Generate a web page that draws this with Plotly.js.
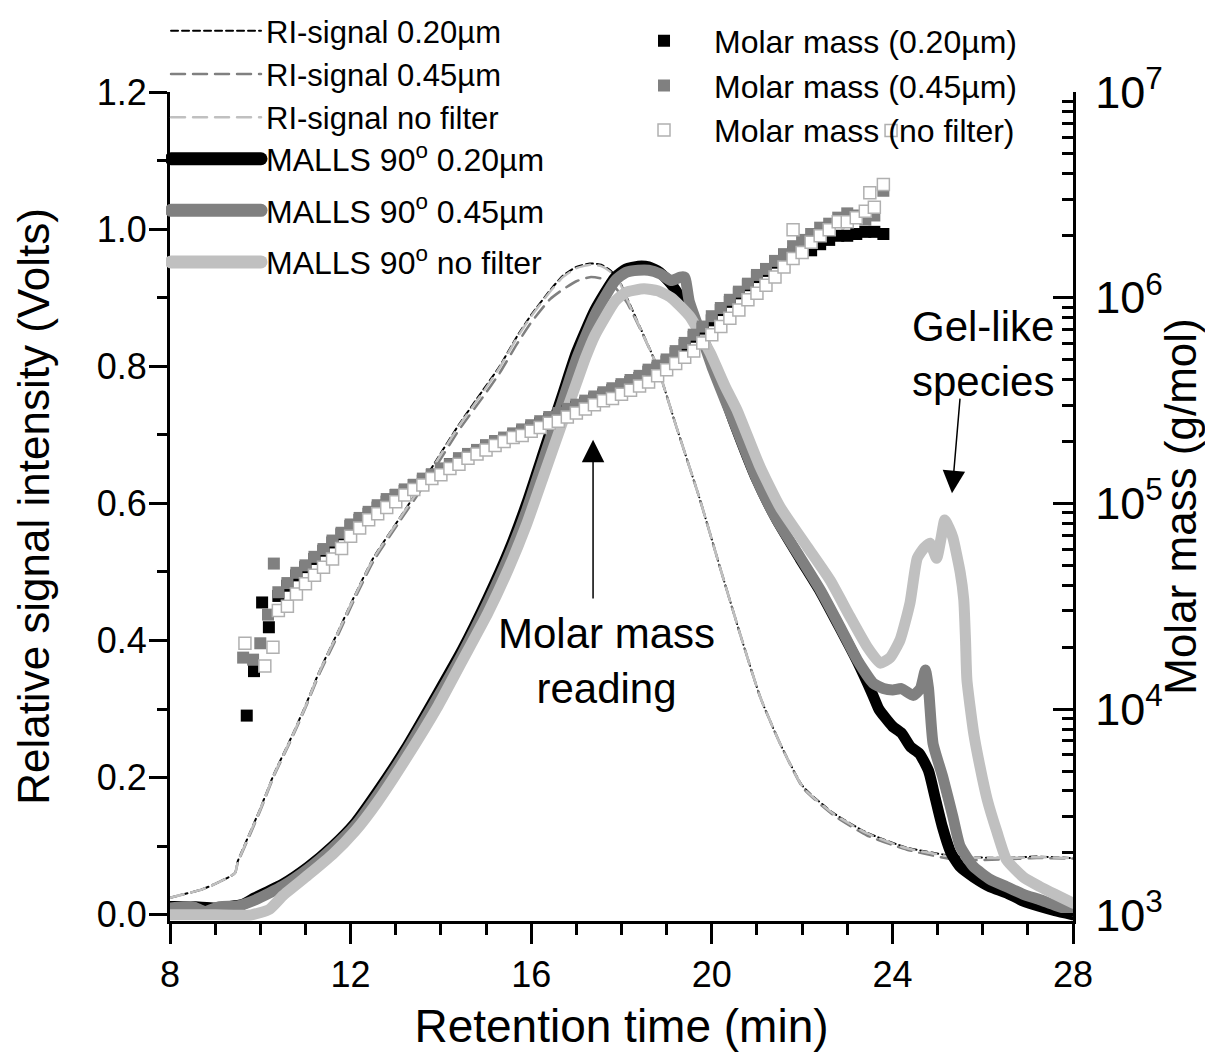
<!DOCTYPE html>
<html>
<head>
<meta charset="utf-8">
<script src="https://cdn.plot.ly/plotly-3.0.1.min.js"></script>
<style>
  body { margin: 0; background: #fff; }
  #chart { width: 1205px; height: 1052px; }
  .scatterlayer .js-line, .legend .js-line { stroke-linecap: round; stroke-linejoin: round; }
  .legend3 .js-line { stroke-width: 13px !important; stroke-linecap: round; }
</style>
</head>
<body>
<div id="chart"></div>
<script>
// ---------------- RI signals (relative signal intensity, Volts) ----------------
const riTime = [8.0, 8.3, 8.66, 9.0, 9.44, 9.5, 9.7, 10.0, 10.3, 10.66, 11.0, 11.32, 11.7, 12.05, 12.5, 13.1, 13.5, 13.9, 14.4, 14.93, 15.3, 15.68, 16.0, 16.42, 16.7, 17.0, 17.3, 17.55, 17.75, 17.95, 18.12, 18.41, 18.79, 19.2, 19.74, 20.18, 20.62, 21.07, 21.51, 22.02, 22.68, 23.43, 24.32, 25.43, 26.53, 27.2, 27.93, 28.0];
const riSignal020 = [0.025, 0.030, 0.036, 0.045, 0.061, 0.078, 0.109, 0.155, 0.205, 0.255, 0.305, 0.357, 0.41, 0.46, 0.52, 0.58, 0.62, 0.663, 0.715, 0.765, 0.80, 0.843, 0.875, 0.911, 0.932, 0.945, 0.95, 0.948, 0.94, 0.925, 0.90, 0.857, 0.80, 0.715, 0.605, 0.507, 0.411, 0.318, 0.25, 0.187, 0.149, 0.12, 0.098, 0.085, 0.083, 0.085, 0.083, 0.083];
const riSignal045 = [0.025, 0.030, 0.036, 0.045, 0.061, 0.076, 0.106, 0.152, 0.202, 0.252, 0.302, 0.353, 0.405, 0.455, 0.515, 0.575, 0.614, 0.655, 0.707, 0.755, 0.79, 0.832, 0.864, 0.898, 0.912, 0.924, 0.93, 0.928, 0.922, 0.908, 0.893, 0.855, 0.80, 0.715, 0.605, 0.507, 0.411, 0.318, 0.25, 0.185, 0.146, 0.116, 0.095, 0.080, 0.081, 0.083, 0.082, 0.082];
const riSignalNoFilter = [0.025, 0.030, 0.036, 0.045, 0.061, 0.077, 0.108, 0.154, 0.204, 0.254, 0.304, 0.356, 0.409, 0.459, 0.519, 0.579, 0.619, 0.661, 0.713, 0.762, 0.798, 0.841, 0.873, 0.909, 0.930, 0.943, 0.948, 0.946, 0.938, 0.923, 0.898, 0.856, 0.80, 0.715, 0.605, 0.507, 0.411, 0.318, 0.25, 0.186, 0.148, 0.119, 0.097, 0.084, 0.083, 0.084, 0.083, 0.083];

// ---------------- MALLS 90° signals ----------------
const mallsTime020 = [8.0, 8.5, 9.0, 9.3, 9.6, 9.88, 10.5, 11.06, 11.6, 12.1, 12.6, 13.2, 13.94, 14.47, 15.04, 15.5, 15.9, 16.3, 16.7, 17.0, 17.41, 17.86, 18.1, 18.37, 18.6, 18.85, 19.1, 19.4, 19.74, 19.96, 20.47, 21.0, 21.44, 21.95, 22.4, 22.84, 23.22, 23.57, 23.7, 24.0, 24.2, 24.4, 24.6, 24.8, 24.95, 25.1, 25.3, 25.5, 25.8, 26.16, 26.53, 26.9, 27.27, 27.6, 28.0];
const malls020 = [0.012, 0.012, 0.010, 0.012, 0.015, 0.025, 0.045, 0.070, 0.100, 0.134, 0.180, 0.240, 0.324, 0.386, 0.462, 0.530, 0.600, 0.680, 0.760, 0.820, 0.882, 0.930, 0.942, 0.946, 0.945, 0.937, 0.920, 0.890, 0.850, 0.815, 0.722, 0.634, 0.576, 0.520, 0.472, 0.418, 0.370, 0.320, 0.300, 0.275, 0.265, 0.245, 0.235, 0.210, 0.170, 0.130, 0.090, 0.070, 0.055, 0.041, 0.032, 0.020, 0.012, 0.006, 0.000];

const mallsTime045 = [8.0, 8.5, 8.78, 9.1, 9.5, 9.9, 10.5, 11.06, 11.6, 12.1, 12.6, 13.2, 13.94, 14.47, 15.04, 15.5, 15.9, 16.3, 16.7, 17.0, 17.41, 17.86, 18.1, 18.37, 18.6, 18.85, 19.1, 19.3, 19.4, 19.5, 19.74, 20.0, 20.47, 21.0, 21.44, 21.95, 22.4, 22.84, 23.22, 23.57, 23.8, 24.01, 24.2, 24.46, 24.62, 24.73, 24.8, 24.9, 25.12, 25.34, 25.5, 25.8, 26.16, 26.53, 26.9, 27.27, 27.6, 28.0];
const malls045 = [0.010, 0.012, 0.005, 0.012, 0.013, 0.022, 0.042, 0.067, 0.097, 0.130, 0.175, 0.235, 0.318, 0.380, 0.455, 0.522, 0.590, 0.670, 0.750, 0.810, 0.875, 0.925, 0.937, 0.940, 0.940, 0.935, 0.925, 0.930, 0.930, 0.895, 0.850, 0.800, 0.722, 0.634, 0.576, 0.522, 0.474, 0.420, 0.372, 0.338, 0.330, 0.328, 0.330, 0.320, 0.330, 0.357, 0.330, 0.250, 0.200, 0.143, 0.100, 0.070, 0.052, 0.041, 0.030, 0.022, 0.014, 0.006];

const mallsTimeNoFilter = [8.0, 9.0, 9.8, 10.2, 10.5, 11.06, 11.6, 12.1, 12.6, 13.2, 13.94, 14.47, 15.04, 15.5, 15.9, 16.3, 16.7, 17.0, 17.2, 17.41, 17.86, 18.1, 18.5, 18.8, 19.1, 19.52, 19.96, 20.3, 20.56, 21.07, 21.51, 22.11, 22.62, 23.06, 23.44, 23.73, 23.95, 24.17, 24.39, 24.55, 24.7, 24.83, 24.98, 25.08, 25.16, 25.25, 25.34, 25.5, 25.58, 25.62, 25.65, 25.8, 25.94, 26.1, 26.32, 26.53, 26.9, 27.27, 27.6, 28.0];
const mallsNoFilter = [0.0, 0.0, 0.0, 0.008, 0.028, 0.058, 0.088, 0.122, 0.165, 0.225, 0.305, 0.370, 0.440, 0.505, 0.570, 0.645, 0.720, 0.775, 0.812, 0.845, 0.895, 0.908, 0.913, 0.910, 0.900, 0.872, 0.820, 0.770, 0.736, 0.653, 0.595, 0.537, 0.488, 0.435, 0.391, 0.367, 0.375, 0.401, 0.455, 0.520, 0.535, 0.542, 0.520, 0.550, 0.576, 0.565, 0.550, 0.500, 0.460, 0.400, 0.343, 0.265, 0.216, 0.168, 0.120, 0.080, 0.055, 0.041, 0.030, 0.017];

// ---------------- Molar mass (g/mol) ----------------
const mmTime = [10.4, 10.6, 10.8, 11.0, 11.2, 11.4, 11.6, 11.8, 12.0, 12.2, 12.4, 12.6, 12.8, 13.0, 13.2, 13.4, 13.6, 13.8, 14.0, 14.2, 14.4, 14.6, 14.8, 15.0, 15.2, 15.4, 15.6, 15.8, 16.0, 16.2, 16.4, 16.6, 16.8, 17.0, 17.2, 17.4, 17.6, 17.8, 18.0, 18.2, 18.4, 18.6, 18.8, 19.0, 19.2, 19.4, 19.6, 19.8, 20.0, 20.2, 20.4, 20.6, 20.8, 21.0, 21.2, 21.4, 21.6, 21.8, 22.0, 22.2, 22.4, 22.6, 22.8, 23.0, 23.2, 23.4, 23.6, 23.8];
const molarMass020 = [3.55e4, 3.98e4, 4.47e4, 4.9e4, 5.37e4, 5.89e4, 6.46e4, 7.08e4, 7.76e4, 8.32e4,
  8.91e4, 9.55e4, 1.02e5, 1.10e5, 1.15e5, 1.23e5, 1.29e5, 1.38e5, 1.45e5, 1.55e5,
  1.62e5, 1.70e5, 1.78e5, 1.91e5, 2.00e5, 2.04e5, 2.14e5, 2.24e5, 2.34e5, 2.45e5,
  2.57e5, 2.69e5, 2.82e5, 2.95e5, 3.09e5, 3.24e5, 3.39e5, 3.55e5, 3.72e5, 3.89e5,
  4.07e5, 4.37e5, 4.57e5, 4.90e5, 5.37e5, 5.89e5, 6.46e5, 7.08e5, 7.76e5, 8.71e5,
  9.55e5, 1.05e6, 1.15e6, 1.26e6, 1.35e6, 1.48e6, 1.62e6, 1.66e6, 1.66e6, 1.70e6,
  1.82e6, 1.91e6, 2.00e6, 2.00e6, 2.04e6, 2.09e6, 2.09e6, 2.04e6];
const molarMass045 = [3.7e4, 4.1e4, 4.6e4, 5.0e4, 5.5e4, 6.0e4, 6.6e4, 7.2e4, 7.9e4, 8.5e4,
  9.1e4, 9.8e4, 1.05e5, 1.10e5, 1.17e5, 1.23e5, 1.32e5, 1.38e5, 1.48e5, 1.55e5,
  1.66e5, 1.74e5, 1.82e5, 1.91e5, 2.00e5, 2.09e5, 2.19e5, 2.29e5, 2.40e5, 2.51e5,
  2.63e5, 2.75e5, 2.88e5, 3.02e5, 3.16e5, 3.31e5, 3.47e5, 3.63e5, 3.80e5, 3.98e5,
  4.17e5, 4.47e5, 4.68e5, 5.01e5, 5.50e5, 6.03e5, 6.61e5, 7.24e5, 8.13e5, 8.91e5,
  9.77e5, 1.07e6, 1.17e6, 1.29e6, 1.38e6, 1.51e6, 1.62e6, 1.78e6, 1.91e6, 2.04e6,
  2.19e6, 2.29e6, 2.45e6, 2.57e6, 2.51e6, 2.40e6, 2.51e6, 3.31e6];
const molarMassNoFilter = [3.02e4, 3.16e4, 3.63e4, 4.07e4, 4.47e4, 4.90e4, 5.37e4, 6.03e4, 6.92e4, 7.59e4,
  8.32e4, 8.91e4, 9.55e4, 1.02e5, 1.10e5, 1.17e5, 1.23e5, 1.32e5, 1.38e5, 1.48e5,
  1.55e5, 1.66e5, 1.74e5, 1.82e5, 1.91e5, 2.00e5, 2.09e5, 2.14e5, 2.24e5, 2.34e5,
  2.45e5, 2.51e5, 2.63e5, 2.75e5, 2.88e5, 3.02e5, 3.16e5, 3.24e5, 3.39e5, 3.55e5,
  3.72e5, 3.89e5, 4.17e5, 4.47e5, 4.79e5, 5.13e5, 5.50e5, 6.03e5, 6.61e5, 7.24e5,
  7.94e5, 8.71e5, 9.77e5, 1.05e6, 1.15e6, 1.26e6, 1.41e6, 1.55e6, 1.66e6, 1.86e6,
  2.00e6, 2.14e6, 2.34e6, 2.34e6, 2.45e6, 2.63e6, 2.75e6, 3.55e6];
// scattered early / outlying readings
const mmExtraTime020 = [9.7, 9.86, 10.04, 10.19];
const mmExtra020 = [9.3e3, 1.53e4, 3.3e4, 2.5e4];
const mmExtraTime045 = [9.62, 9.84, 10.0, 10.17, 10.3];
const mmExtra045 = [1.78e4, 1.74e4, 2.09e4, 2.88e4, 5.1e4];
const mmExtraTimeNoFilter = [9.66, 10.1, 10.28, 21.8, 23.5, 23.97];
const mmExtraNoFilter = [2.09e4, 1.62e4, 2.0e4, 2.14e6, 3.24e6, 6.5e6];

// ---------------- labels ----------------
const riNames = ['RI-signal 0.20µm', 'RI-signal 0.45µm', 'RI-signal no filter'];
const mallsNames = ['MALLS 90<sup>o</sup> 0.20µm', 'MALLS 90<sup>o</sup> 0.45µm', 'MALLS 90<sup>o</sup> no filter'];
const mmNames = ['Molar mass (0.20µm)', 'Molar mass (0.45µm)', 'Molar mass (no filter)'];

const FONT = 'Liberation Sans, Arial, Helvetica, sans-serif';
const BLACK = '#000000', GREY = '#808080', LIGHT = '#c0c0c0';

const traces = [
  {x: riTime, y: riSignal020, name: riNames[0], mode: 'lines', line: {color: BLACK, width: 2, dash: '7px,4px', shape: 'spline', smoothing: 0.5}, legend: 'legend'},
  {x: riTime, y: riSignal045, name: riNames[1], mode: 'lines', line: {color: GREY, width: 2.5, dash: '14px,8px', shape: 'spline', smoothing: 0.5}, legend: 'legend'},
  {x: riTime, y: riSignalNoFilter, name: riNames[2], mode: 'lines', line: {color: LIGHT, width: 2.5, dash: '14px,8px', shape: 'spline', smoothing: 0.5}, legend: 'legend'},
  {x: mallsTime020, y: malls020, name: mallsNames[0], mode: 'lines', line: {color: BLACK, width: 11, shape: 'spline', smoothing: 0.5}, legend: 'legend3', legendgroup: 'm1'},
  {x: mallsTime045, y: malls045, name: mallsNames[1], mode: 'lines', line: {color: GREY, width: 11, shape: 'spline', smoothing: 0.5}, legend: 'legend3', legendgroup: 'm2'},
  {x: mallsTimeNoFilter, y: mallsNoFilter, name: mallsNames[2], mode: 'lines', line: {color: LIGHT, width: 11, shape: 'spline', smoothing: 0.5}, legend: 'legend3', legendgroup: 'm3'},
  {x: mmExtraTime020.concat(mmTime), y: mmExtra020.concat(molarMass020), name: mmNames[0], mode: 'markers', yaxis: 'y2',
   marker: {symbol: 'square', size: 12, color: BLACK, line: {width: 0}}, legend: 'legend2'},
  {x: mmExtraTime045.concat(mmTime), y: mmExtra045.concat(molarMass045), name: mmNames[1], mode: 'markers', yaxis: 'y2',
   marker: {symbol: 'square', size: 12, color: GREY, line: {width: 0}}, legend: 'legend2'},
  {x: mmExtraTimeNoFilter.concat(mmTime), y: mmExtraNoFilter.concat(molarMassNoFilter), name: mmNames[2], mode: 'markers', yaxis: 'y2',
   marker: {symbol: 'square', size: 12, color: '#ffffff', line: {width: 1.5, color: '#b0b0b0'}}, legend: 'legend2'}
];

const layout = {
  width: 1205, height: 1052,
  paper_bgcolor: '#ffffff', plot_bgcolor: '#ffffff',
  margin: {l: 170, r: 132, t: 92, b: 131, pad: 0, autoexpand: false},
  font: {family: FONT, color: '#000', size: 32},
  showlegend: true,
  xaxis: {
    range: [8, 28], tick0: 8, dtick: 4, showgrid: false, zeroline: false,
    showline: true, linewidth: 3, linecolor: '#000', mirror: false,
    ticks: 'outside', ticklen: 20, tickwidth: 3, tickcolor: '#000',
    minor: {dtick: 1, ticks: 'outside', ticklen: 11, tickwidth: 3, tickcolor: '#000'},
    tickfont: {size: 36, family: FONT},
    title: {text: 'Retention time (min)', font: {size: 46, family: FONT}, standoff: 16}
  },
  yaxis: {
    range: [-0.009, 1.2], tick0: 0, dtick: 0.2, tickformat: '.1f', showgrid: false, zeroline: false,
    showline: true, linewidth: 3, linecolor: '#000',
    ticks: 'outside', ticklen: 18, tickwidth: 3, tickcolor: '#000',
    minor: {dtick: 0.1, ticks: 'outside', ticklen: 10, tickwidth: 3, tickcolor: '#000'},
    tickfont: {size: 36, family: FONT}, ticklabelstandoff: -5,
    title: {text: 'Relative signal intensity (Volts)', font: {size: 44, family: FONT}, standoff: 34}
  },
  yaxis2: {
    type: 'log', range: [2.97, 7], overlaying: 'y', side: 'right', anchor: 'x',
    dtick: 1, exponentformat: 'power', showgrid: false, zeroline: false,
    showline: true, linewidth: 3, linecolor: '#000',
    ticks: 'inside', ticklen: 20, tickwidth: 3, tickcolor: '#000',
    minor: {dtick: 'D1', ticks: 'inside', ticklen: 11, tickwidth: 3, tickcolor: '#000'},
    tickfont: {size: 36, family: FONT}, ticklabelstandoff: 12,
    title: {text: 'Molar mass (g/mol)', font: {size: 44, family: FONT}, standoff: 12}
  },
  legend: {
    x: -0.0044, xanchor: 'left', y: 1.1061, yanchor: 'top',
    bgcolor: 'rgba(0,0,0,0)', borderwidth: 0, itemwidth: 90,
    font: {size: 31, family: FONT}
  },
  legend3: {
    x: -0.0044, xanchor: 'left', y: 0.9524, yanchor: 'top',
    bgcolor: 'rgba(0,0,0,0)', borderwidth: 0, itemwidth: 90,
    font: {size: 32, family: FONT}, tracegroupgap: 7
  },
  legend2: {
    x: 0.4917, xanchor: 'left', y: 1.0947, yanchor: 'top',
    bgcolor: 'rgba(0,0,0,0)', borderwidth: 0, itemwidth: 90,
    font: {size: 32, family: FONT}
  },
  annotations: [
    {x: 17.66, y: 0.37, xref: 'x', yref: 'y', text: 'Molar mass<br>reading', showarrow: false,
     font: {size: 42, family: FONT}, align: 'center'},
    {x: 17.37, y: 0.693, ax: 17.37, ay: 0.459, axref: 'x', ayref: 'y', xref: 'x', yref: 'y', text: '',
     showarrow: true, arrowhead: 2, arrowsize: 3, arrowwidth: 1.5, arrowcolor: '#000'},
    {x: 26.0, y: 0.818, xref: 'x', yref: 'y', text: 'Gel-like<br>species', showarrow: false,
     font: {size: 42, family: FONT}, align: 'center'},
    {x: 25.32, y: 0.615, ax: 25.5, ay: 0.755, axref: 'x', ayref: 'y', xref: 'x', yref: 'y', text: '',
     showarrow: true, arrowhead: 2, arrowsize: 3, arrowwidth: 1.5, arrowcolor: '#000'}
  ]
};

Plotly.newPlot('chart', traces, layout, {staticPlot: true, displayModeBar: false});
</script>
</body>
</html>
